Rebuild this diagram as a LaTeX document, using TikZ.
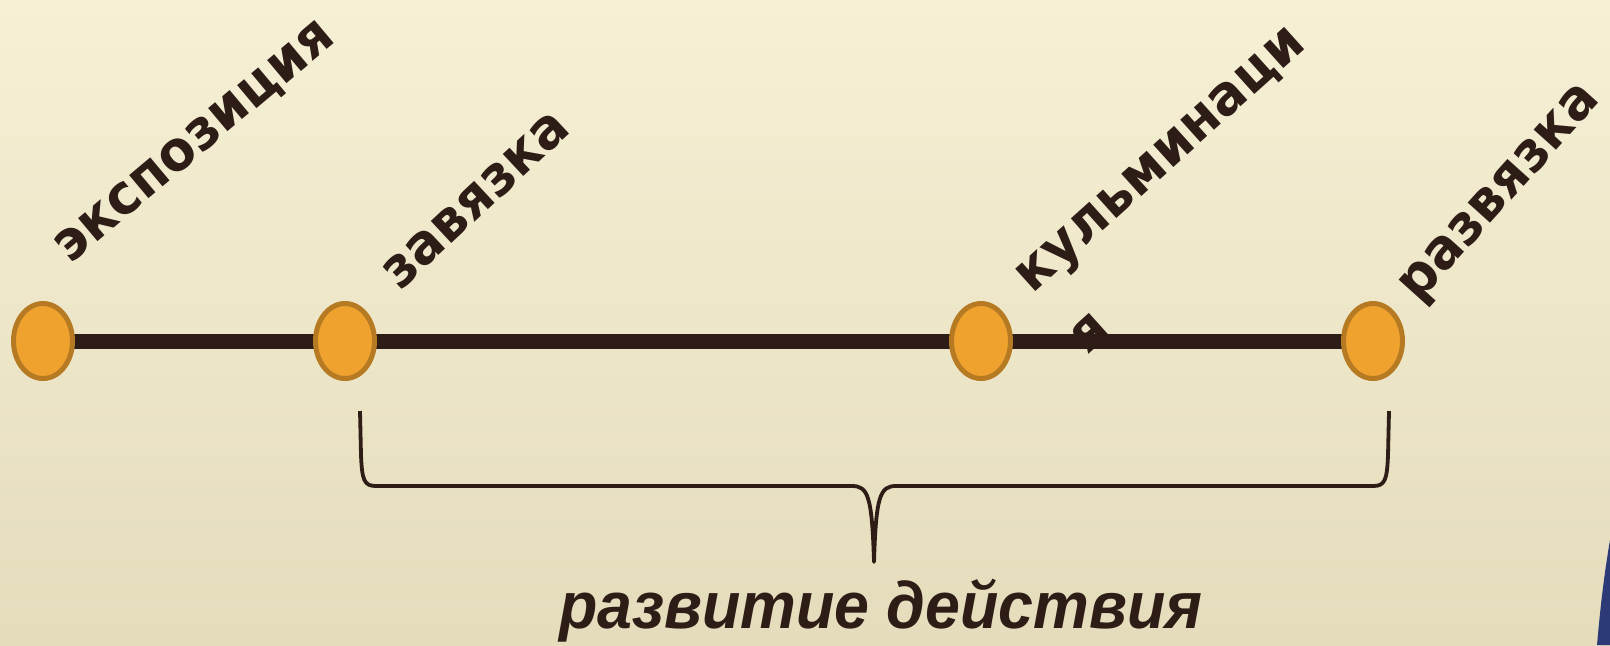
\documentclass[tikz,border=0pt]{standalone}
\usepackage{fontspec}
\usepackage{tikz}
\usetikzlibrary{shapes.geometric}

\newfontfamily\stagefont[FakeStretch=0.96]{DejaVu Sans}
\newfontfamily\capfont[FakeStretch=0.95]{Liberation Sans}

\definecolor{ink}{HTML}{2E1C17}
\definecolor{dotfill}{HTML}{F0A22E}
\definecolor{dotline}{HTML}{B67A22}
\definecolor{bgtop}{HTML}{F6F0D5}
\definecolor{bgbot}{HTML}{E4DCBB}
\definecolor{slide}{HTML}{2C3A78}

\begin{document}
\begin{tikzpicture}[x=0.5pt,y=-0.5pt,
                    dot/.style={ellipse,draw=dotline,fill=dotfill,line width=2.5pt,
                                minimum width=29.5pt,minimum height=37.5pt,inner sep=0pt},
                    stage/.style={font=\stagefont\bfseries\fontsize{27.5}{41}\selectfont,
                                  text=ink,anchor=base west,inner sep=0pt,align=left},
                    brace/.style={draw=ink,line width=1.9pt,line join=round}]

  \shade[top color=bgtop,bottom color=bgbot] (0,0) rectangle (1610,645);
  \useasboundingbox (0,0) rectangle (1610,645);
  \fill[slide] (1610,540) .. controls (1604,575) and (1600,610) .. (1597,645) -- (1610,645) -- cycle;

  % the plot line
  \coordinate (e) at (43,341);
  \coordinate (z) at (345,341);
  \coordinate (k) at (981,341);
  \coordinate (r) at (1373,341);
  \draw[ink,line width=7.5pt] (e) -- (r);

  \node[dot] (E) at (e) {};
  \node[dot] (Z) at (z) {};
  \node[dot] (K) at (k) {};
  \node[dot] (R) at (r) {};

  % stage names, the last line of a node sits on its point
  \node[stage,rotate=40] (tE) at (70,265)   {экспозиция};
  \node[stage,rotate=43] (tZ) at (400,292)  {завязка};
  \node[stage,rotate=42] (tK) at (1087,356) {кульминаци\\я};
  \node[stage,rotate=48] (tR) at (1418,304) {развязка};

  % brace under the development
  \draw[brace] (360,411) -- (361,455) .. controls (362,480) and (364,486) .. (376,486)
               -- (852,486) .. controls (868,486) and (872,496) .. (874,562)
               .. controls (876,496) and (880,486) .. (896,486)
               -- (1373,486) .. controls (1385,486) and (1387,480) .. (1388,455) -- (1389,411);

  \node[font=\capfont\bfseries\itshape\fontsize{33}{40}\selectfont,text=ink,anchor=base]
       (dev) at (881,628) {развитие действия};
\end{tikzpicture}
\end{document}
